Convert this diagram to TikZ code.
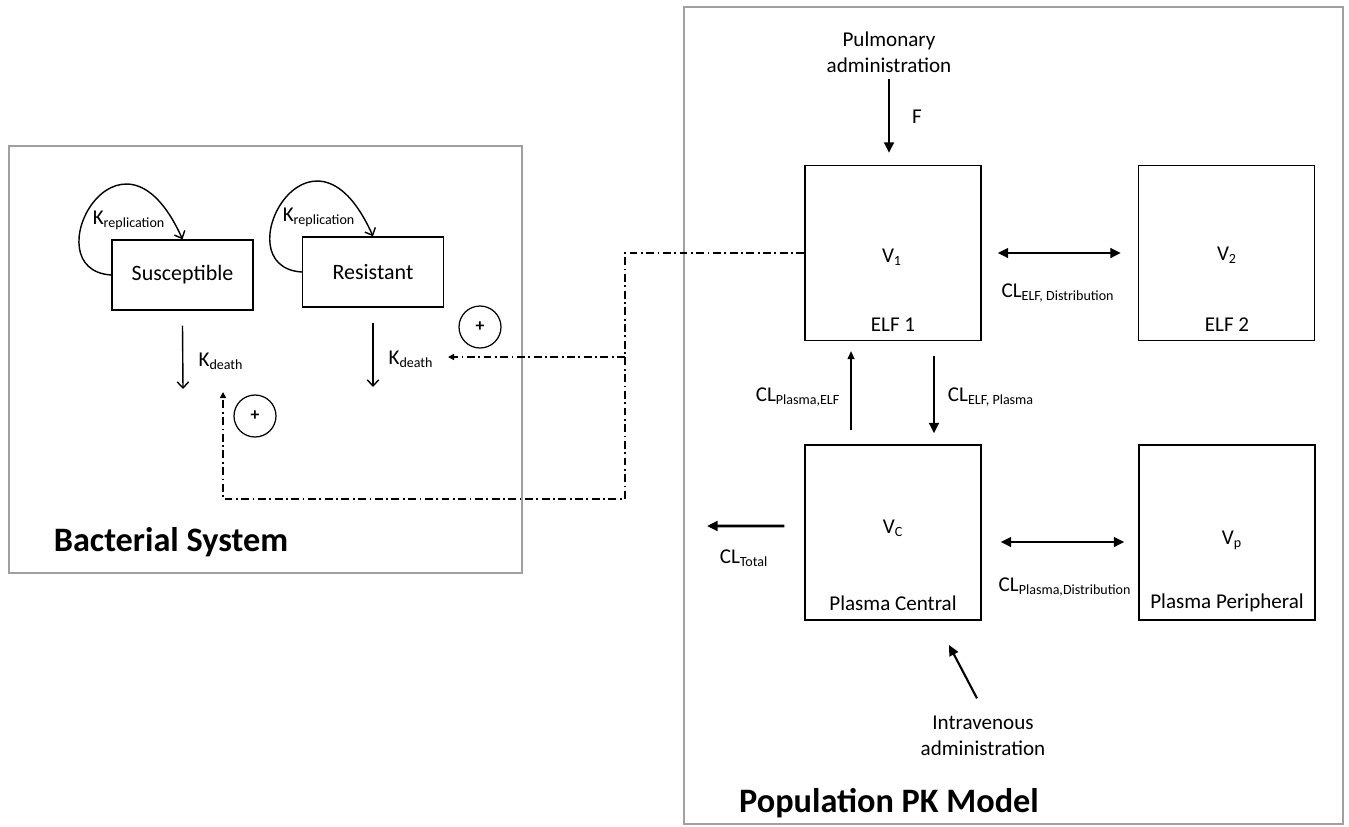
\documentclass[tikz,border=0pt]{standalone}
\usepackage{fontspec}
\setmainfont{Carlito}
\usepackage{xcolor}
\definecolor{cPanel}{HTML}{A0A0A0}
\usepackage{tikz}
\usetikzlibrary{arrows.meta}
\tikzset{
  panel-box/.style={draw=cPanel,line width=1.3pt},
  node-cell/.style={draw,line width=0.8pt,minimum width=2.82cm,minimum height=1.4cm,
    font=\fontsize{12.5}{15}\selectfont},
  node-comp/.style={draw,line width=0.8pt,minimum width=3.52cm,minimum height=3.5cm},
  node-plus/.style={draw,circle,line width=0.7pt,minimum size=0.84cm,inner sep=0pt,
    font=\bfseries},
  node-title/.style={font=\fontsize{19.5}{23}\selectfont\bfseries},
  arrow/.style={-{Straight Barb[length=3.5pt,width=6.5pt]},line width=0.8pt},
  arrow-thin/.style={-{Triangle[length=4.5pt,width=4pt]},line width=0.6pt},
  arrow-thick/.style={-{Triangle[length=6pt,width=5.5pt]},line width=1.6pt},
  arrow-both/.style={{Triangle[length=6pt,width=5.5pt]}-{Triangle[length=6pt,width=5.5pt]},
    line width=1.6pt},
  arrow-effect/.style={-{Triangle[length=3.5pt,width=3.5pt]},line width=0.8pt,
    dash pattern=on 4.5pt off 2pt on 1pt off 2pt},
}

\begin{document}
\begin{tikzpicture}[x=0.02cm,y=-0.02cm,font=\fontsize{12}{15}\selectfont]
  \useasboundingbox (0,0) rectangle (1349,826);
  % panels
  \draw[panel-box] (9,146) rectangle (522,573);
  \draw[panel-box] (684,7) rectangle (1343,824);
  \node[node-title] (bact) at (171,542) {Bacterial System};
  \node[node-title] (popk) at (889,803) {Population PK Model};

  % bacterial system
  \node[node-cell] (sus) at (182.5,275) {Susceptible};
  \node[node-cell] (res) at (373,272) {Resistant};
  \node (krs) at (129,220) {K\textsubscript{replication}};
  \node (krr) at (319,217) {K\textsubscript{replication}};
  \draw[arrow] (sus.west) .. controls (30,270) and (120,100) .. (sus.north);
  \draw[arrow] (res.west) .. controls (221,267) and (311,97) .. (res.north);
  \coordinate (sde) at (183,389);
  \coordinate (rde) at (373,387);
  \draw[arrow] ([yshift=-0.3cm]sus.south) -- (sde);
  \draw[arrow] ([yshift=-0.3cm]res.south) -- (rde);
  \node (kds) at (221,361) {K\textsubscript{death}};
  \node (kdr) at (411,359) {K\textsubscript{death}};
  \node[node-plus] (pls) at (255,416) {+};
  \node[node-plus] (plr) at (480,327) {+};

  % population PK model
  \node[align=center] (pulm) at (889,52) {Pulmonary\\administration};
  \node[node-comp] (elf1) at (893,253) {};
  \node[node-comp] (elf2) at (1226.5,253) {};
  \node[node-comp] (plc) at (893,532.5) {};
  \node[node-comp] (plp) at (1227,532.5) {};
  \node (v1) at (892,257) {V\textsubscript{1}};
  \node (v2) at (1227,255) {V\textsubscript{2}};
  \node (vc) at (893,528) {V\textsubscript{C}};
  \node (vp) at (1232,540) {V\textsubscript{p}};
  \node (elf1-lab) at (893,325) {ELF 1};
  \node (elf2-lab) at (1227,325) {ELF 2};
  \node (plc-lab) at (893,603) {Plasma Central};
  \node (plp-lab) at (1227,603) {Plasma Peripheral};

  \draw[arrow-thick,shorten >=0.24cm] (pulm.south) -- (pulm.south |- elf1.north);
  \node (f) at (917,117) {F};
  \draw[arrow-both,shorten <=0.32cm,shorten >=0.34cm] (elf1.east) -- (elf2.west);
  \node (cl-ed) at (1058,293) {CL\textsubscript{ELF, Distribution}};
  \draw[arrow-both,shorten <=0.38cm,shorten >=0.28cm]
    ([yshift=-0.19cm]plc.east) -- ([yshift=-0.19cm]plp.west);
  \node (cl-pd) at (1065,587) {CL\textsubscript{Plasma,Distribution}};
  \draw[arrow-thin,shorten <=0.28cm,shorten >=0.2cm]
    ([xshift=-0.84cm]plc.north) -- ([xshift=-0.84cm]elf1.south);
  \draw[arrow-thick,shorten <=0.3cm,shorten >=0.22cm]
    ([xshift=0.82cm]elf1.south) -- ([xshift=0.82cm]plc.north);
  \node (cl-pe) at (798,397) {CL\textsubscript{Plasma,ELF}};
  \node (cl-ep) at (991,397) {CL\textsubscript{ELF, Plasma}};
  \coordinate (out) at (707,526);
  \draw[arrow-thick,shorten <=0.4cm] ([yshift=0.13cm]plc.west) -- (out);
  \node (cl-t) at (744,558) {CL\textsubscript{Total}};
  \node[align=center] (iv) at (983,736) {Intravenous\\administration};
  \coordinate (ivtip) at (949,645);
  \draw[arrow-thick,line width=1.2pt,shorten <=0.26cm] (iv.north) -- (ivtip);

  % drug effect on killing
  \coordinate (bend) at (625,499);
  \coordinate (split) at (625,357);
  \coordinate (stip) at (223,392);
  \coordinate (rtip) at (448,357);
  \draw[arrow-effect] (elf1.west) -| (bend) -| (stip);
  \draw[arrow-effect] (split) -- (rtip);
\end{tikzpicture}
\end{document}
